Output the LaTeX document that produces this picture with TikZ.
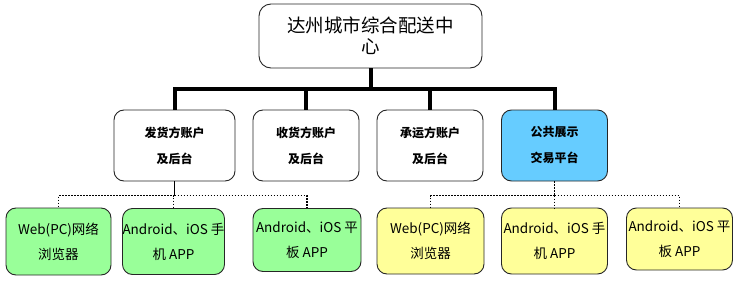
\documentclass[tikz,border=0pt]{standalone}
\usepackage{fontspec}
\setmainfont{Noto Sans CJK SC}
\usepackage{xcolor}
\definecolor{pcgreen}{HTML}{99FF99}
\definecolor{padyellow}{HTML}{FFFF99}
\definecolor{pubblue}{HTML}{66CCFF}
\usetikzlibrary{positioning}

\begin{document}
\begin{tikzpicture}[
    x=1pt, y=-1pt, node distance=124pt,
    box/.style={draw=black!85, line width=0.9pt, rounded corners=10pt, align=center, inner sep=0pt},
    hub/.style={box, minimum width=223pt, minimum height=64pt, rounded corners=12pt, font=\fontsize{18.5}{21}\selectfont},
    account/.style={box, minimum width=106pt, minimum height=71pt, font=\bfseries\fontsize{12}{26}\selectfont},
    client/.style={box, minimum width=106pt, minimum height=66pt, font=\fontsize{13.5}{25}\selectfont},
    trunk/.style={line width=4pt},
    dotlink/.style={line width=1.6pt, dash pattern=on 1.5pt off 1.5pt}
]
    \useasboundingbox (0,0) rectangle (737,281);

    \node[hub] (CENTER) at (370.5,36) {达州城市综合配送中\\心};

    \node[account, minimum width=121pt] (SHIPPER) at (174.5,145.5) {发货方账户\\及后台};
    \node[account, right of=SHIPPER, node distance=131.5pt] (RECEIVER) {收货方账户\\及后台};
    \node[account, right of=RECEIVER] (CARRIER) {承运方账户\\及后台};
    \node[account, right of=CARRIER, node distance=124.5pt, fill=pubblue] (PUBLIC) {公共展示\\交易平台};

    \node[client, fill=pcgreen, minimum width=105pt, minimum height=67pt] (WEBL) at (58.5,241.5) {Web(PC)网络\\浏览器};
    \node[client, fill=pcgreen, minimum width=101pt, right of=WEBL, node distance=115pt] (PHONEL) {Android、iOS 手\\机 APP};
    \node[client, fill=pcgreen, minimum width=108pt, minimum height=63pt, right of=PHONEL, node distance=133.5pt, yshift=1.5pt] (PADL) {Android、iOS 平\\板 APP};

    \node[client, fill=padyellow, minimum width=107pt] (WEBR) at (430.5,241) {Web(PC)网络\\浏览器};
    \node[client, fill=padyellow, right of=WEBR] (PHONER) {Android、iOS 手\\机 APP};
    \node[client, fill=padyellow, minimum height=62pt, right of=PHONER, node distance=125pt, yshift=2pt] (PADR) {Android、iOS 平\\板 APP};

    % main tree
    \coordinate (BUS) at (370.5,88.5);
    \draw[trunk] (CENTER.south) -- (BUS);
    \draw[trunk] (BUS) -| (SHIPPER.north);
    \draw[trunk] (BUS) -| (RECEIVER.north);
    \draw[trunk] (BUS) -| (CARRIER.north);
    \draw[trunk] (BUS) -| (PUBLIC.north);

    % clients
    \coordinate (LBUS) at (174.5,195.5);
    \coordinate (RBUS) at (554.5,195.5);
    \draw[line width=1.3pt] (SHIPPER.south) -- (LBUS);
    \draw[dotlink] (LBUS) -| (WEBL.north);
    \draw[dotlink] (LBUS) -| (PHONEL.north);
    \draw[dotlink] (LBUS) -| (PADL.north);
    \draw[dotlink] (PUBLIC.south) -- (RBUS);
    \draw[dotlink] (RBUS) -| (WEBR.north);
    \draw[dotlink] (RBUS) -| (PHONER.north);
    \draw[dotlink] (RBUS) -| (PADR.north);
\end{tikzpicture}
\end{document}
